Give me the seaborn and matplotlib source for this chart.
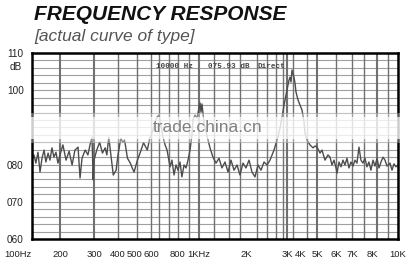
import numpy as np
import matplotlib
matplotlib.use("Agg")
import matplotlib.pyplot as plt
import seaborn as sns
import pandas as pd
from matplotlib.patches import Rectangle

# ---------------- data ----------------
freq_hz = [100, 105, 110, 116, 122, 128, 135, 141, 149, 156, 164, 172, 181, 190, 200,
           207, 215, 223, 231, 239, 248, 254, 260, 270, 279, 286, 293, 297, 300,
           310, 321, 332, 343, 350, 358, 370, 378, 391, 400,
           415, 426, 436, 453, 470, 482, 494,
           514, 536, 551, 575, 592,
           613, 626, 640, 653, 667, 682, 697, 712, 735, 750, 767, 783,
           800, 817, 834, 853, 871, 890, 909, 928, 938, 958, 979,
           1000, 1015, 1030, 1045, 1077, 1109, 1142, 1176, 1229, 1285, 1343, 1403, 1467,
           1534, 1603, 1676, 1752, 1830, 1913,
           2000, 2060, 2122, 2186, 2252, 2320, 2390, 2462, 2536, 2638, 2718, 2800, 2856,
           2913, 2942,
           3000, 3126, 3191, 3258, 3325, 3394, 3463, 3536, 3609, 3761, 3919,
           4056, 4171, 4229, 4348, 4535, 4729, 4864,
           5000, 5146, 5245, 5398, 5556, 5664, 5774, 5887,
           6000, 6058, 6175, 6295, 6417, 6541, 6668, 6797, 6930,
           7047, 7141, 7236, 7333, 7431, 7531, 7632, 7734, 7838, 7943,
           8069, 8209, 8352, 8496, 8643, 8793, 8945, 9100, 9336, 9498, 9662, 9829, 10000]
level_db = [81.2, 82.6, 80.4, 83.3, 78.0, 81.7, 83.9, 80.7, 83.1, 81.2, 84.5, 82.0, 83.3, 80.4, 82.6,
            85.3, 81.2, 83.6, 79.9, 83.9, 84.7, 76.4, 81.7, 83.9, 82.6, 85.3, 87.4, 75.9, 81.2,
            83.9, 86.0, 83.1, 84.5, 82.6, 87.4, 81.2, 77.2, 78.5, 82.6,
            87.1, 86.0, 86.6, 81.7, 80.4, 79.1, 78.0,
            81.2, 83.9, 85.9, 83.9, 87.1,
            89.3, 91.5, 92.8, 93.3, 90.6, 87.4, 85.3, 83.9, 79.4, 81.2, 77.2, 79.9,
            78.5, 80.7, 76.7, 79.9, 79.1, 81.2, 83.9, 88.0, 92.0, 93.3, 92.5,
            95.2, 96.6, 94.1, 96.3, 91.2, 88.8, 86.6, 84.5, 82.0, 80.4, 81.7, 79.1, 80.7,
            78.0, 81.2, 78.5, 79.9, 77.2, 80.4,
            79.1, 81.2, 78.0, 76.7, 79.9, 78.5, 80.7, 79.9, 81.2, 83.9, 86.6, 89.8, 92.8,
            96.0, 97.4,
            100.1, 102.7, 103.5, 102.2, 105.4, 104.4, 103.5, 101.9, 99.5, 97.4, 96.0,
            94.7, 91.5, 88.5, 86.6, 85.3, 84.5, 85.0,
            84.7, 83.1, 83.9, 81.2, 82.6, 82.0, 79.9, 81.2,
            79.1, 77.7, 80.7, 79.4, 81.2, 79.9, 81.7, 79.1, 80.7,
            79.6, 81.2, 80.4, 84.7, 81.2, 80.4, 81.7, 79.4, 80.7, 78.5,
            81.2, 79.6, 81.7, 79.1, 80.7, 82.0, 81.2, 79.6, 80.4, 78.5, 80.2, 79.4, 79.9]

tick_freqs = [100, 200, 300, 400, 500, 600, 800, 1000, 2000, 3000, 4000, 5000, 6000, 7000, 8000, 10000]
tick_labels = ["100Hz", "200", "300", "400", "500", "600", "800", "1KHz", "2K", "3K", "4K", "5K", "6K", "7K", "8K", "10K"]
ytick_vals = [60, 70, 80, 100, 110]
ytick_labels = ["060", "070", "080", "100", "110"]
grid_freqs = [200, 300, 400, 514, 600, 653, 726, 800, 900, 1000, 1248, 1556, 1830, 2231, 2462,
              2690, 2884, 3000, 3395, 4349, 5000, 6000, 7000, 7580, 8352, 9177]
heavy_grid = [200, 300, 1000, 3000, 5000, 8352]

# ---------------- warped frequency axis of the printed sheet ----------------
warp_logf = np.log10(np.array(tick_freqs, dtype=float))
warp_pos = np.array([0, 28, 62, 86, 103, 119, 146, 167, 214, 255, 269, 285, 304, 320, 340, 366]) / 366.0
s0 = (warp_pos[1] - warp_pos[0]) / (warp_logf[1] - warp_logf[0])
s1 = (warp_pos[-1] - warp_pos[-2]) / (warp_logf[-1] - warp_logf[-2])
wl = np.concatenate([[warp_logf[0] - 3], warp_logf, [warp_logf[-1] + 3]])
wp = np.concatenate([[warp_pos[0] - 3 * s0], warp_pos, [warp_pos[-1] + 3 * s1]])


def fwd(x):
    x = np.clip(np.asarray(x, dtype=float), 1e-3, None)
    return np.interp(np.log10(x), wl, wp)


def inv(p):
    return 10 ** np.interp(np.asarray(p, dtype=float), wp, wl)


sns.set_style("white")
plt.rcParams["font.family"] = ["Liberation Sans", "DejaVu Sans"]

fig = plt.figure(figsize=(4.16, 2.69), dpi=100)
ax = fig.add_axes([32 / 416, 30 / 269, 366 / 416, 186 / 269])
ax.set_xscale("function", functions=(fwd, inv))
ax.set_xlim(100, 10000)
ax.set_ylim(60, 110)

# grid of the paper
for v in range(62, 110, 2):
    ax.axhline(v, color="#a0a0a0", lw=0.8, zorder=1)
for f in grid_freqs:
    ax.axvline(f, color="#707070", lw=1.5 if f in heavy_grid else 1.0, zorder=1)

df = pd.DataFrame({"freq": freq_hz, "level": level_db})
sns.lineplot(data=df, x="freq", y="level", ax=ax, color="#4d4d4d", lw=1.0,
             estimator=None, sort=False, zorder=3)

ax.set_xticks(tick_freqs)
ax.set_xticklabels(tick_labels)
ax.set_yticks(ytick_vals)
ax.set_yticklabels(ytick_labels)
ax.xaxis.set_minor_locator(matplotlib.ticker.NullLocator())
ax.tick_params(axis="both", length=0, labelsize=7.2, labelcolor="#222222")
ax.tick_params(axis="x", pad=8, labelsize=6.8)
ax.tick_params(axis="y", pad=6)
lbl0 = ax.get_xticklabels()[0]
lbl0.set_horizontalalignment("right")
ax.set_xlabel("")
ax.set_ylabel("")
for s in ax.spines.values():
    s.set_color("black")
    s.set_linewidth(1.8)
    s.set_zorder(5)

# readout printed on the sheet
for txt, xp in [("10000 Hz", 0.339), ("075.93 dB", 0.481), ("Direct", 0.615)]:
    ax.text(xp, 0.925, txt, transform=ax.transAxes, fontsize=5.5, fontweight="bold",
            family="Liberation Mono", color="#444444", va="center", ha="left", zorder=4)

fig.text(16 / 416, 1 - 67 / 269, "dB", fontsize=7.2, color="#222222", ha="center", va="center")

# titles
fig.text(34 / 416, 1 - 15 / 269, "FREQUENCY RESPONSE", fontsize=15, fontweight="bold",
         fontstyle="italic", color="#111111", ha="left", va="center")
fig.text(34 / 416, 1 - 36 / 269, "[actual curve of type]", fontsize=12.5,
         fontstyle="italic", color="#555555", ha="left", va="center")

# faded scan band with site watermark
for y0, h, a in [(113, 30, 0.35), (117, 22, 0.7)]:
    fig.patches.append(Rectangle((26 / 416, 1 - (y0 + h) / 269), 380 / 416, h / 269,
                                 transform=fig.transFigure, facecolor="white",
                                 edgecolor="none", alpha=a, zorder=10))
fig.text(208 / 416, 1 - 127 / 269, "trade.china.cn", fontsize=12.5, color="#808080",
         ha="center", va="center", zorder=11)

fig.savefig("out.png", dpi=100)
